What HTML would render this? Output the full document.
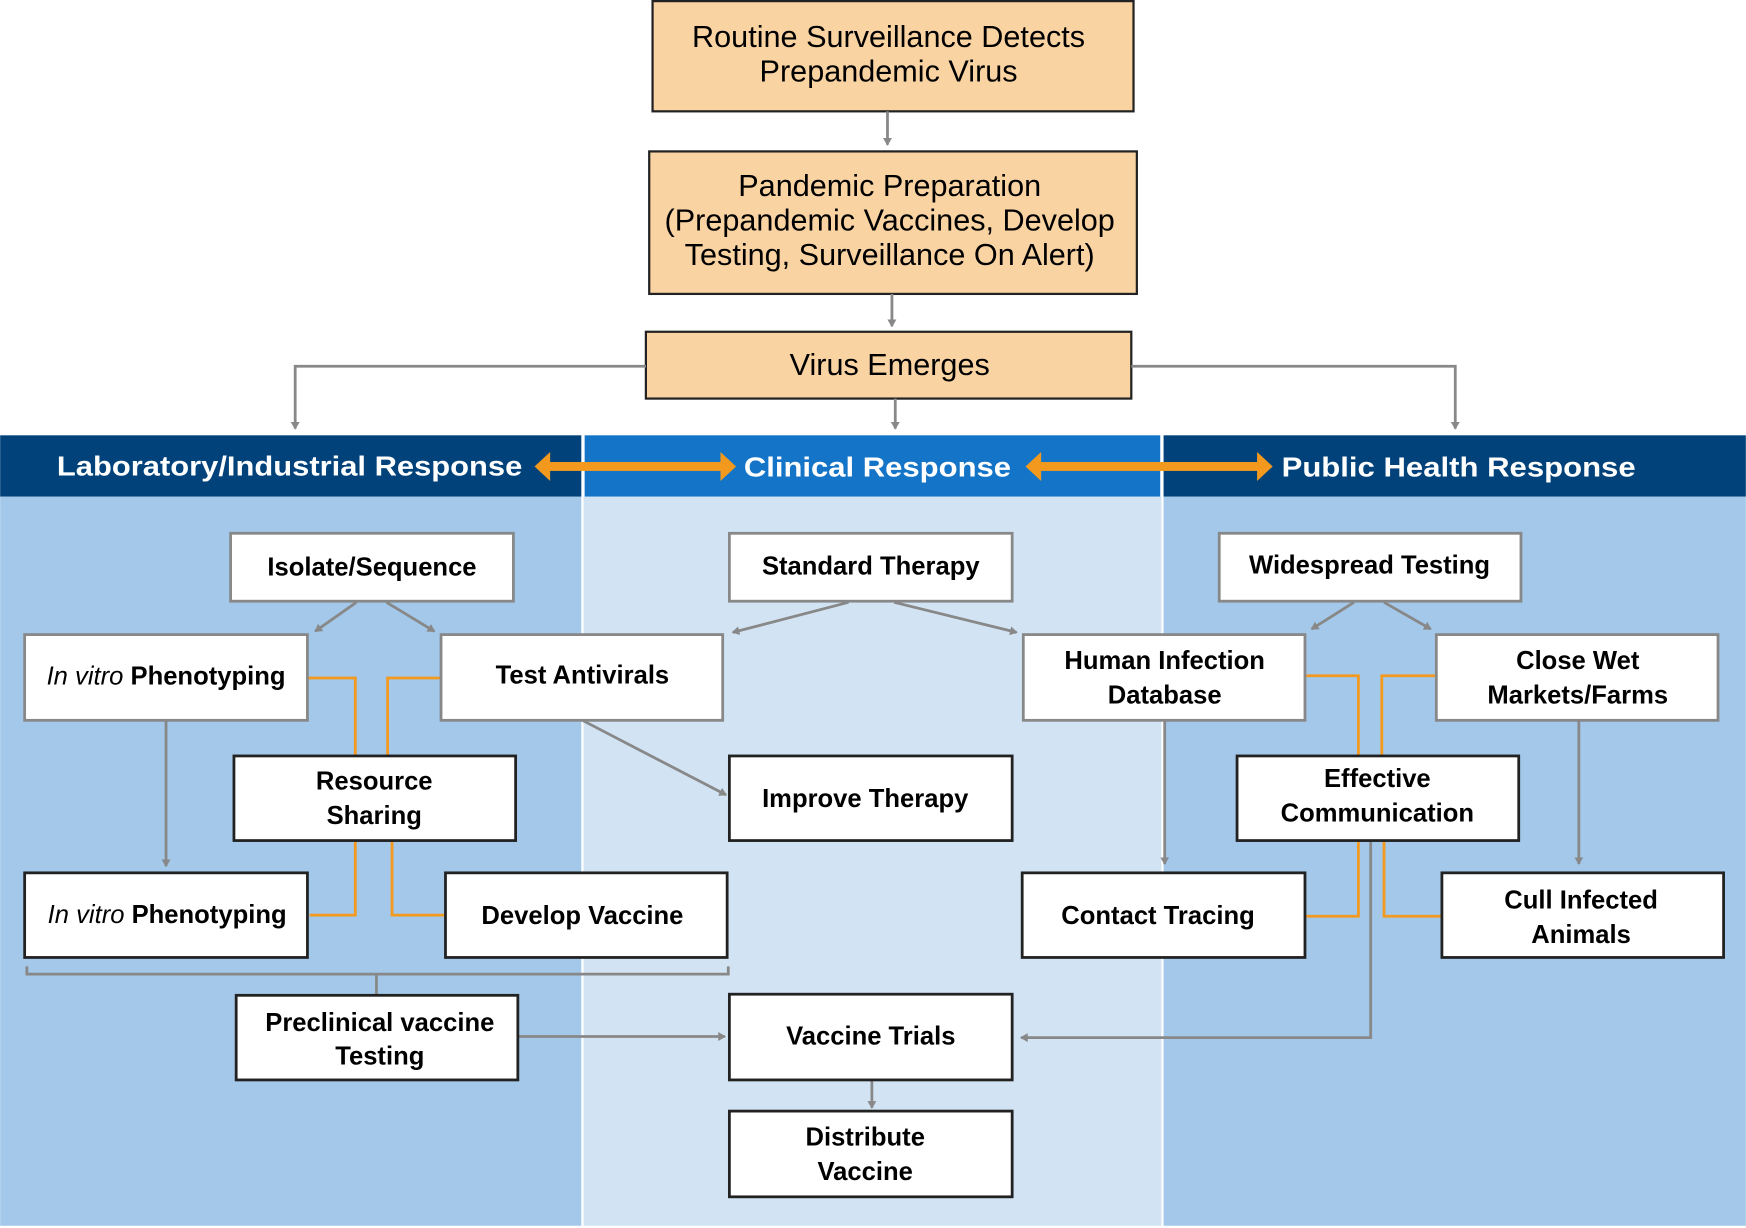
<!DOCTYPE html>
<html><head><meta charset="utf-8"><style>
html,body{margin:0;padding:0;background:#fff;}
svg{display:block;}
text{font-family:"Liberation Sans",Arial,sans-serif;}
.b{font-weight:bold;font-size:23px;fill:#000;}
.h{font-weight:bold;font-size:25px;fill:#fff;}
.o{font-size:27.5px;fill:#000;}
</style></head><body>
<svg width="1746" height="1228" viewBox="0 0 1568 1103" xmlns="http://www.w3.org/2000/svg">
<defs>
<marker id="a" markerWidth="8" markerHeight="8" refX="6" refY="4" orient="auto" markerUnits="userSpaceOnUse"><path d="M0,0 L7,4 L0,8 Z" fill="#888"/></marker>
</defs>
<rect width="1568" height="1103" fill="#fff"/>
<rect x="0" y="446" width="522" height="655" fill="#a3c8e9"/>
<rect x="524" y="446" width="519" height="655" fill="#d2e4f4"/>
<rect x="1045" y="446" width="523" height="655" fill="#a3c8e9"/>
<rect x="0" y="391" width="522" height="55" fill="#02427a"/>
<rect x="525" y="391" width="517" height="55" fill="#1475c8"/>
<rect x="1045" y="391" width="523" height="55" fill="#02427a"/>
<text class="h" x="260" y="427" text-anchor="middle" textLength="418" lengthAdjust="spacingAndGlyphs">Laboratory/Industrial Response</text>
<text class="h" x="788" y="428" text-anchor="middle" textLength="240" lengthAdjust="spacingAndGlyphs">Clinical Response</text>
<text class="h" x="1310" y="428" text-anchor="middle" textLength="318" lengthAdjust="spacingAndGlyphs">Public Health Response</text>
<g fill="#f39a1e">
<rect x="490" y="415" width="160" height="8"/><path d="M480,419 L494,406 L494,432 Z"/><path d="M661,419 L647,406 L647,432 Z"/>
<rect x="931" y="415" width="201" height="8"/><path d="M921,419 L935,406 L935,432 Z"/><path d="M1143,419 L1129,406 L1129,432 Z"/>
</g>
<g fill="#fad3a3" stroke="#222" stroke-width="2">
<rect x="586" y="1" width="432" height="99"/>
<rect x="583" y="136" width="438" height="128"/>
<rect x="580" y="298" width="436" height="60"/>
</g>
<text class="o" x="798" y="42" text-anchor="middle">Routine Surveillance Detects</text>
<text class="o" x="798" y="73" text-anchor="middle">Prepandemic Virus</text>
<text class="o" x="799" y="176" text-anchor="middle">Pandemic Preparation</text>
<text class="o" x="799" y="207" text-anchor="middle">(Prepandemic Vaccines, Develop</text>
<text class="o" x="799" y="238" text-anchor="middle">Testing, Surveillance On Alert)</text>
<text class="o" x="799" y="337" text-anchor="middle">Virus Emerges</text>
<g stroke="#888" stroke-width="2.5" fill="none" marker-end="url(#a)">
<path d="M797,100 V130"/>
<path d="M801,264 V293"/>
<path d="M580,329 H265 V385"/>
<path d="M1016,329 H1307 V385"/>
<path d="M804,358 V385"/>
<path d="M320,541 L283,567"/>
<path d="M347,541 L390,567"/>
<path d="M149,647 V778"/>
<path d="M523,647 L652,714"/>
<path d="M465,931 H651"/>
<path d="M783,970 V995"/>
<path d="M762,541 L658,568"/>
<path d="M803,541 L913,568"/>
<path d="M1216,541 L1178,565"/>
<path d="M1243,541 L1285,565"/>
<path d="M1046,647 V776"/>
<path d="M1418,647 V776"/>
<path d="M1231,755 V932 H917"/>
</g>
<path d="M24,868 V875 H654 V868 M338,875 V893" stroke="#888" stroke-width="2.5" fill="none"/>
<g stroke="#f39a1e" stroke-width="2.5" fill="none">
<path d="M276,609 H319 V679"/>
<path d="M395,609 H348 V679"/>
<path d="M319,755 V822 H278"/>
<path d="M352,755 V822 H400"/>
<path d="M1173,607 H1220 V679"/>
<path d="M1289,607 H1241 V679"/>
<path d="M1220,755 V823 H1173"/>
<path d="M1243,755 V823 H1295"/>
</g>
<g fill="#fff" stroke-width="2.5">
<rect x="207" y="479" width="254" height="61" stroke="#888"/>
<rect x="22" y="570" width="254" height="77" stroke="#888"/>
<rect x="396" y="570" width="253" height="77" stroke="#888"/>
<rect x="210" y="679" width="253" height="76" stroke="#222"/>
<rect x="22" y="784" width="254" height="76" stroke="#222"/>
<rect x="400" y="784" width="253" height="76" stroke="#222"/>
<rect x="212" y="894" width="253" height="76" stroke="#222"/>
<rect x="655" y="479" width="254" height="61" stroke="#888"/>
<rect x="655" y="679" width="254" height="76" stroke="#222"/>
<rect x="655" y="893" width="254" height="77" stroke="#222"/>
<rect x="655" y="998" width="254" height="77" stroke="#222"/>
<rect x="1095" y="479" width="271" height="61" stroke="#888"/>
<rect x="919" y="570" width="253" height="77" stroke="#888"/>
<rect x="1290" y="570" width="253" height="77" stroke="#888"/>
<rect x="1111" y="679" width="253" height="76" stroke="#222"/>
<rect x="918" y="784" width="254" height="76" stroke="#222"/>
<rect x="1295" y="784" width="253" height="76" stroke="#222"/>
</g>
<g text-anchor="middle">
<text class="b" x="334" y="517">Isolate/Sequence</text>
<text class="b" x="149" y="615"><tspan font-style="italic" font-weight="normal">In vitro</tspan> Phenotyping</text>
<text class="b" x="523" y="614">Test Antivirals</text>
<text class="b" x="336" y="709">Resource</text>
<text class="b" x="336" y="740">Sharing</text>
<text class="b" x="150" y="829"><tspan font-style="italic" font-weight="normal">In vitro</tspan> Phenotyping</text>
<text class="b" x="523" y="830">Develop Vaccine</text>
<text class="b" x="341" y="926">Preclinical vaccine</text>
<text class="b" x="341" y="956">Testing</text>
<text class="b" x="782" y="516">Standard Therapy</text>
<text class="b" x="777" y="725">Improve Therapy</text>
<text class="b" x="782" y="938">Vaccine Trials</text>
<text class="b" x="777" y="1029">Distribute</text>
<text class="b" x="777" y="1060">Vaccine</text>
<text class="b" x="1230" y="515">Widespread Testing</text>
<text class="b" x="1046" y="601">Human Infection</text>
<text class="b" x="1046" y="632">Database</text>
<text class="b" x="1417" y="601">Close Wet</text>
<text class="b" x="1417" y="632">Markets/Farms</text>
<text class="b" x="1237" y="707">Effective</text>
<text class="b" x="1237" y="738">Communication</text>
<text class="b" x="1040" y="830">Contact Tracing</text>
<text class="b" x="1420" y="816">Cull Infected</text>
<text class="b" x="1420" y="847">Animals</text>
</g>
</svg>
</body></html>
